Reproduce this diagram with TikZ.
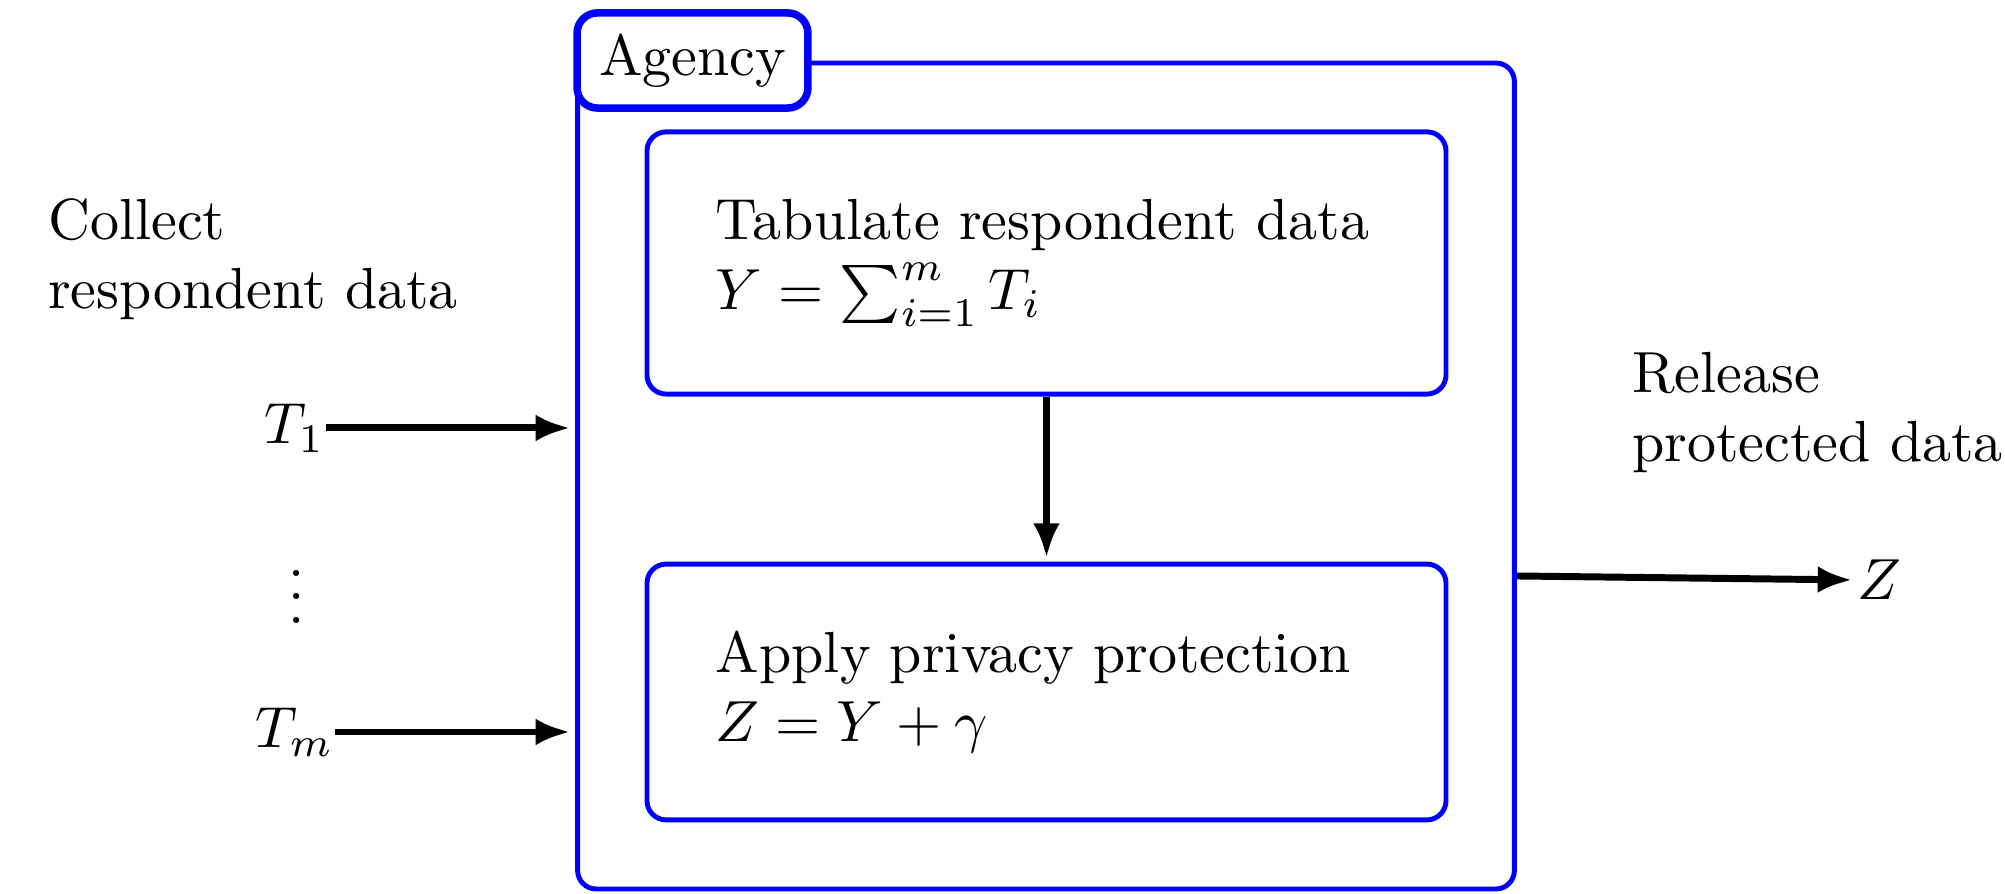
\documentclass[tikz,border=0pt]{standalone}
\usetikzlibrary{arrows.meta}
\begin{document}
\begin{tikzpicture}[x=0.1724pt, y=-0.1724pt,
  frame/.style={draw=blue, line width=0.85pt, rounded corners=3.2pt, inner sep=0pt},
  stage/.style={draw=blue, line width=0.85pt, rounded corners=3.3pt, inner sep=0pt,
                align=left, text width=114pt, minimum width=137.75pt},
  tag/.style={draw=blue, fill=white, line width=1.3pt, rounded corners=3.5pt, inner sep=0pt},
  flow/.style={-{Latex[length=6pt,width=4.6pt]}, line width=1.2pt},
  lbl/.style={inner sep=0pt, align=left}
]
\useasboundingbox (0,0) rectangle (2005,894);

% agency frame and its title tab
\node[frame, minimum width=161.5pt, minimum height=142.4pt] (agency) at (1046,476) {};
\node[tag, minimum width=39.8pt, minimum height=16.4pt] (title) at (692.5,60.5) {Agency};

% the two processing stages
\node[stage, minimum height=45.2pt] (tab) at (1046.5,263)
  {Tabulate respondent data\\ $Y=\sum_{i=1}^m T_i$};
\node[stage, minimum height=44.1pt] (priv) at (1046.5,692)
  {Apply privacy protection\\ $Z=Y+\gamma$};

% inputs
\node[lbl, anchor=base west] (collect) at (47,309) {Collect\\respondent data};
\node[inner sep=0pt, anchor=east] (t1) at (326,428) {$T_1$};
\node[inner sep=0pt] (dots) at (297,579.5) {$\vdots$};
\node[inner sep=0pt, anchor=east] (tm) at (335,732) {$T_m$};

% output
\node[lbl, anchor=base west] (release) at (1631,462) {Release\\protected data};
\node[inner sep=0pt, anchor=west] (z) at (1856,580) {$Z$};
\coordinate (zout) at (agency.east |- 0,576);

% connectors
\draw[flow, shorten >=0.8pt] (t1.east) -- (t1.east -| agency.west);
\draw[flow, shorten >=0.8pt] (tm.east) -- (tm.east -| agency.west);
\draw[flow, shorten >=0.6pt] (tab.south) -- (priv.north);
\draw[flow, shorten >=0.6pt] (zout) -- (z.west);
\end{tikzpicture}
\end{document}
